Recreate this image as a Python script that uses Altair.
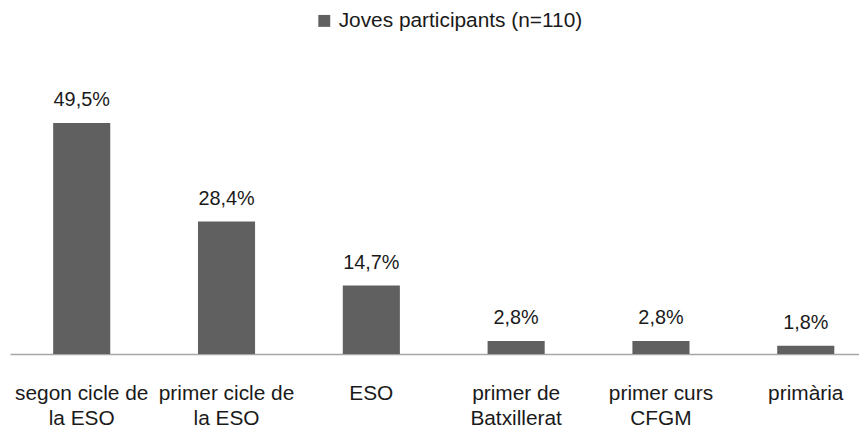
import altair as alt
import pandas as pd

categories = [
    "segon cicle de\nla ESO",
    "primer cicle de\nla ESO",
    "ESO",
    "primer de\nBatxillerat",
    "primer curs\nCFGM",
    "primària",
]
values = [49.5, 28.4, 14.7, 2.8, 2.8, 1.8]
value_labels = ["49,5%", "28,4%", "14,7%", "2,8%", "2,8%", "1,8%"]
series_name = "Joves participants (n=110)"

df = pd.DataFrame({
    "cat": categories,
    "val": values,
    "lab": value_labels,
    "serie": [series_name] * len(categories),
})

FONT = "Liberation Sans"
x = alt.X(
    "cat:N",
    sort=categories,
    title=None,
    scale=alt.Scale(paddingInner=0.603, paddingOuter=0.233, align=0.637),
    axis=alt.Axis(
        labelExpr="split(datum.label, '\\n')",
        labelAngle=0,
        labelFont=FONT,
        labelFontSize=21,
        labelColor="#1a1a1a",
        labelLineHeight=25,
        labelPadding=29,
        labelBaseline="top",
        labelLimit=0,
        ticks=False,
        domainColor="#a6a6a6",
        domainWidth=1.5,
        grid=False,
    ),
)
y = alt.Y("val:Q", scale=alt.Scale(domain=[0, 60]), axis=None)

bars = alt.Chart(df).mark_bar(size=57.5).encode(
    x=x,
    y=y,
    color=alt.Color(
        "serie:N",
        scale=alt.Scale(range=["#606060"]),
        legend=alt.Legend(
            title=None,
            orient="none",
            legendX=306,
            legendY=-64,
            symbolType="square",
            symbolSize=144,
            symbolStrokeWidth=0,
            symbolOpacity=1,
            labelFont=FONT,
            labelFontSize=21,
            labelColor="#1a1a1a",
            labelOffset=4,
            labelLimit=0,
        ),
    ),
)

labels = alt.Chart(df).mark_text(
    font=FONT, fontSize=20, color="#1a1a1a", baseline="alphabetic", dy=-17
).encode(x=alt.X("cat:N", sort=categories), y=y, text="lab:N")

chart = (
    alt.layer(bars, labels)
    .properties(
        width=855,
        height=282,
        autosize=alt.AutoSizeParams(type="none"),
        padding={"left": 2, "top": 65, "right": 0, "bottom": 78},
    )
    .configure_view(stroke=None)
)

chart.save("out.html", embed_options={"renderer": "svg", "actions": False})
